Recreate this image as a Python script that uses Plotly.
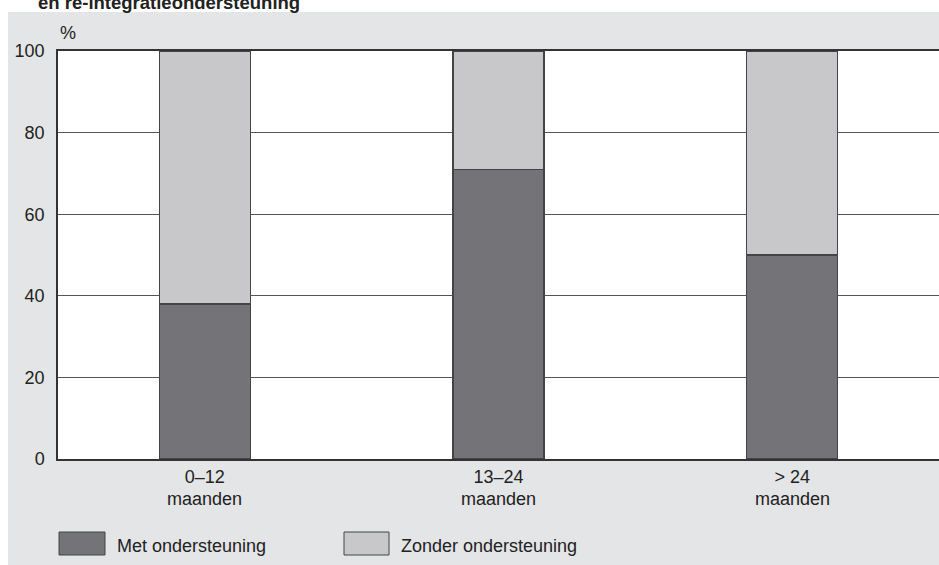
import plotly.graph_objects as go

categories = ["0–12", "13–24", "> 24"]
category_unit = "maanden"
met_ondersteuning = [38, 71, 50]
zonder_ondersteuning = [62, 29, 50]
y_ticks = [0, 20, 40, 60, 80, 100]
series_names = ["Met ondersteuning", "Zonder ondersteuning"]
title_text = "en re-integratieondersteuning"

DARK = "#747478"
LIGHT = "#c8c8ca"
BG = "#e4e5e6"
EDGE = "#444444"
TXT = "#222222"
FONT = "Liberation Sans, Arial, sans-serif"

W, H = 939, 565
L, R, T, B = 58, 0, 51, 106
PW, PH = W - L - R, H - T - B

def px(xp):
    return (xp - L) / PW

def py(yp):
    return (H - B - yp) / PH

fig = go.Figure()
fig.add_bar(x=categories, y=met_ondersteuning, name=series_names[0],
            marker=dict(color=DARK, line=dict(color=EDGE, width=1.2)))
fig.add_bar(x=categories, y=zonder_ondersteuning, name=series_names[1],
            marker=dict(color=LIGHT, line=dict(color=EDGE, width=1.2)))

shapes = [
    dict(type="rect", xref="paper", yref="paper", x0=px(0), x1=px(8), y0=py(H), y1=py(0),
         fillcolor="white", line=dict(width=0), layer="above"),
    dict(type="rect", xref="paper", yref="paper", x0=px(0), x1=px(W), y0=py(12), y1=py(0),
         fillcolor="white", line=dict(width=0), layer="above"),
    dict(type="rect", xref="paper", yref="paper", x0=px(59), x1=px(105), y0=py(555), y1=py(532),
         fillcolor=DARK, line=dict(color=EDGE, width=1)),
    dict(type="rect", xref="paper", yref="paper", x0=px(344), x1=px(389), y0=py(555), y1=py(532),
         fillcolor=LIGHT, line=dict(color=EDGE, width=1)),
]

annotations = [
    dict(text="<b>" + title_text + "</b>", xref="paper", yref="paper", x=px(36), y=py(3),
         xanchor="left", yanchor="middle", showarrow=False,
         font=dict(family=FONT, size=18.5, color=TXT)),
    dict(text="%", xref="paper", yref="paper", x=px(58), y=py(33),
         xanchor="left", yanchor="middle", showarrow=False,
         font=dict(family=FONT, size=18, color=TXT)),
    dict(text=series_names[0], xref="paper", yref="paper", x=px(115), y=py(546),
         xanchor="left", yanchor="middle", showarrow=False,
         font=dict(family=FONT, size=18, color=TXT)),
    dict(text=series_names[1], xref="paper", yref="paper", x=px(399), y=py(546),
         xanchor="left", yanchor="middle", showarrow=False,
         font=dict(family=FONT, size=18, color=TXT)),
]
for c in categories:
    annotations.append(dict(text=category_unit, xref="x", yref="paper", x=c, y=py(499),
                            xanchor="center", yanchor="middle", showarrow=False,
                            font=dict(family=FONT, size=18, color=TXT)))

fig.update_layout(
    width=W, height=H,
    margin=dict(l=L, r=R, t=T, b=B, pad=0),
    barmode="stack", bargap=0.69,
    paper_bgcolor=BG, plot_bgcolor="white",
    showlegend=False,
    shapes=shapes, annotations=annotations,
    font=dict(family=FONT, size=18, color=TXT),
    xaxis=dict(showgrid=False, showline=True, mirror=True, linecolor="#333333", linewidth=2,
               ticks="", tickfont=dict(size=18, color=TXT), ticklabelstandoff=0),
    yaxis=dict(range=[0, 100], tickvals=y_ticks, showgrid=True, gridcolor="#555555", gridwidth=1,
               showline=True, linecolor="#333333", linewidth=1.5, ticks="",
               zeroline=False, tickfont=dict(size=18, color=TXT), ticklabelstandoff=8),
)

fig.write_html("out.html", config={"displayModeBar": False},
               post_script="document.body.style.margin='0';document.body.style.overflow='hidden';")
